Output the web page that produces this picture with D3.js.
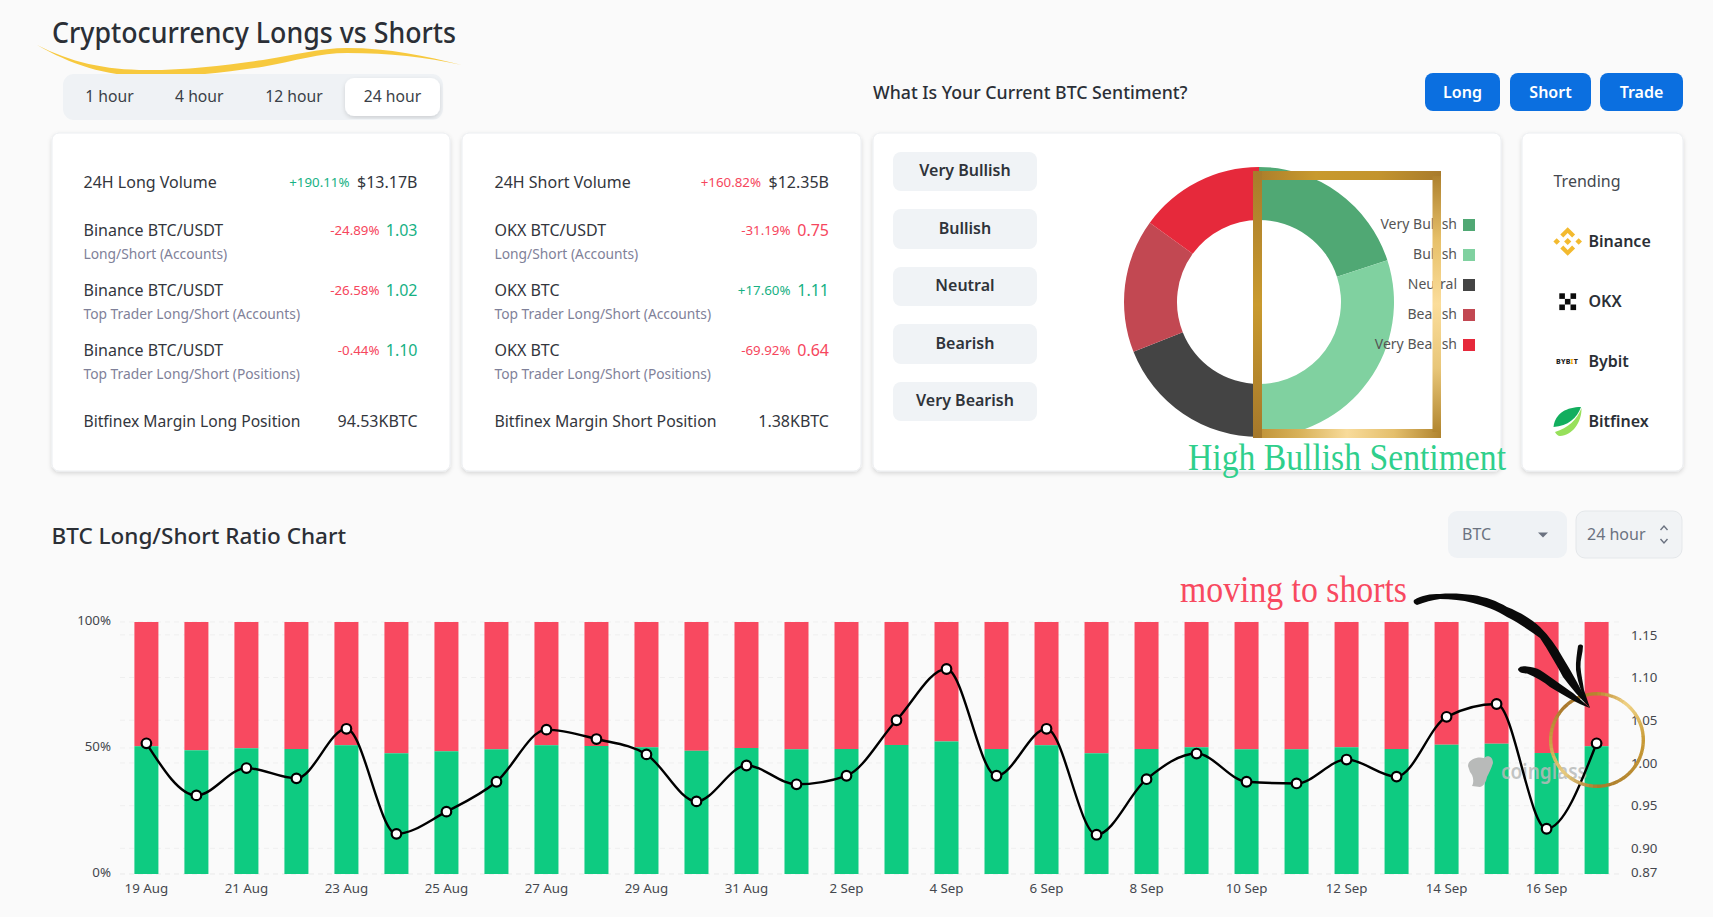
<!DOCTYPE html>
<html><head><meta charset="utf-8">
<script src="https://cdn.jsdelivr.net/npm/d3@7/dist/d3.min.js"></script>
<style>html,body{margin:0;padding:0;background:#fafafa;overflow:hidden}svg{display:block}</style>
</head><body><svg id="c" width="1713" height="917"></svg>
<script>
const dates=["19 Aug","20 Aug","21 Aug","22 Aug","23 Aug","24 Aug","25 Aug","26 Aug","27 Aug","28 Aug","29 Aug","30 Aug","31 Aug","1 Sep","2 Sep","3 Sep","4 Sep","5 Sep","6 Sep","7 Sep","8 Sep","9 Sep","10 Sep","11 Sep","12 Sep","13 Sep","14 Sep","15 Sep","16 Sep","17 Sep"];
const longPct=[50.7,49.1,49.9,49.6,51.1,47.9,48.7,49.5,51.1,50.8,50.3,48.9,50.0,49.5,49.6,51.2,52.6,49.6,51.1,47.9,49.6,50.3,49.5,49.5,50.3,49.6,51.3,51.7,48.0,50.7];
const ratio=[1.023,0.962,0.994,0.982,1.040,0.917,0.943,0.978,1.039,1.028,1.010,0.955,0.997,0.975,0.985,1.050,1.110,0.985,1.040,0.916,0.981,1.011,0.978,0.976,1.004,0.984,1.054,1.069,0.923,1.023];
const leftTicks=[0,50,100];
const rightTicks=[0.87,0.90,0.95,1.00,1.05,1.10,1.15];
const sentimentNames=["Very Bullish","Bullish","Neutral","Bearish","Very Bearish"];
const sentimentShare=[20,30,19,16,15];
const sentimentColors=["#50a874","#80d1a0","#444444","#c24852","#e6293b"];
const hourTabs=["1 hour","4 hour","12 hour","24 hour"];
const actionButtons=["Long","Short","Trade"];
const trending=["Binance","OKX","Bybit","Bitfinex"];
const longRows=[["24H Long Volume","","+190.11%","$13.17B"],["Binance BTC/USDT","Long/Short (Accounts)","-24.89%","1.03"],["Binance BTC/USDT","Top Trader Long/Short (Accounts)","-26.58%","1.02"],["Binance BTC/USDT","Top Trader Long/Short (Positions)","-0.44%","1.10"],["Bitfinex Margin Long Position","","","94.53KBTC"]];
const shortRows=[["24H Short Volume","","+160.82%","$12.35B"],["OKX BTC/USDT","Long/Short (Accounts)","-31.19%","0.75"],["OKX BTC","Top Trader Long/Short (Accounts)","+17.60%","1.11"],["OKX BTC","Top Trader Long/Short (Positions)","-69.92%","0.64"],["Bitfinex Margin Short Position","","","1.38KBTC"]];
const longPctIsUp=[true,false,false,false,false];
const shortPctIsUp=[false,false,true,false,false];

const GREEN="#0ecb81",RED="#f84960",UP="#17b184",DOWN="#f6465d",FONT="'Noto Sans',sans-serif",SERIF="'Liberation Serif',serif",INK="#2b2f36";
const svg=d3.select("#c").style("font-family",FONT);
svg.append("rect").attr("width",1713).attr("height",917).attr("fill","#fafafa");
const defs=svg.append("defs");
defs.append("filter").attr("id","sh").attr("x","-5%").attr("y","-5%").attr("width","110%").attr("height","112%")
 .append("feDropShadow").attr("dx",0).attr("dy",2).attr("stdDeviation",2).attr("flood-color","#000").attr("flood-opacity",.14);
function grad(id,stops,x2,y2){const g=defs.append("linearGradient").attr("id",id).attr("x1",0).attr("y1",0).attr("x2",x2).attr("y2",y2);
 stops.forEach((c,i)=>g.append("stop").attr("offset",i/(stops.length-1)).attr("stop-color",c));return `url(#${id})`;}
function txt(x,y,s,size,fill,anchor,weight,fam){return svg.append("text").attr("x",x).attr("y",y).attr("dy",".35em").text(s).attr("font-size",size).attr("fill",fill).attr("text-anchor",anchor||"start").attr("font-weight",weight||400).attr("font-family",fam||FONT);}
function fit(sel,w){return sel.attr("textLength",w).attr("lengthAdjust","spacingAndGlyphs");}

// header
svg.append("path").attr("d","M37,45C70,62 105,70 147,70C190,70 225,65 263,60C295,55 320,48 347,48C390,48 425,56 462,65C425,57 390,53 347,53C320,53 295,61 263,66.7C225,72 190,77 147,76.7C105,76 70,64 37,45Z").attr("fill","#f7c93e");
fit(txt(52,33.5,"Cryptocurrency Longs vs Shorts",28.5,INK,"start",500),404);
svg.append("rect").attr("x",63).attr("y",74).attr("width",380).attr("height",46).attr("rx",11).attr("fill","#eff2f5");
svg.append("rect").attr("x",345).attr("y",78).attr("width",95).attr("height",38).attr("rx",9).attr("fill","#fff").attr("filter","url(#sh)");
const tabX=[109.5,199.3,294,392.5];
hourTabs.forEach((t,i)=>txt(tabX[i],97,t,15.7,"#3a3f47","middle"));
fit(txt(873,93,"What Is Your Current BTC Sentiment?",18,INK,"start",500),314.5);
const btnBox=[[1425,75],[1510,81],[1600,83]];
actionButtons.forEach((b,i)=>{svg.append("rect").attr("x",btnBox[i][0]).attr("y",73).attr("width",btnBox[i][1]).attr("height",38).attr("rx",8).attr("fill","#0b6fe0");
 txt(btnBox[i][0]+btnBox[i][1]/2,92,b,16,"#fff","middle",600);});

// cards
[[52,398],[462,399],[873,628],[1522,161]].forEach(c=>svg.append("rect").attr("x",c[0]).attr("y",133).attr("width",c[1]).attr("height",338).attr("rx",7).attr("fill","#fff").attr("stroke","#eceef1").attr("filter","url(#sh)"));
const rowY=[182.5,230,290,350,421.5];
function rows(data,flags,x,right,pctR0,pctR,lastW){data.forEach((r,i)=>{
 const t=txt(x,rowY[i],r[0],16,"#33363d");
 if(i==4)fit(t,lastW);
 if(r[1])txt(x,rowY[i]+24,r[1],13.8,"#7f8199");
 if(r[2])txt(i==0?pctR0:pctR,rowY[i],r[2],13.3,flags[i]?UP:DOWN,"end");
 const col=(i==0||i==4)?"#33363d":(parseFloat(r[3])>=1?UP:DOWN);
 txt(right,rowY[i],r[3],16,col,"end");
});}
rows(longRows,longPctIsUp,83.5,417.5,349.5,379.5,217);
rows(shortRows,shortPctIsUp,494.5,829,761,790.5,222);

// sentiment buttons
const pillY=[[152,39],[209,40],[267,39],[324,40],[382,39]];
sentimentNames.forEach((n,i)=>{svg.append("rect").attr("x",893).attr("y",pillY[i][0]).attr("width",144).attr("height",pillY[i][1]).attr("rx",8).attr("fill","#f0f3f6");
 txt(965,pillY[i][0]+pillY[i][1]/2-.8,n,16,"#2f333a","middle",600);});

// donut
const pie=d3.pie().sort(null)(sentimentShare);
const arc=d3.arc().innerRadius(82).outerRadius(135);
svg.append("g").attr("transform","translate(1259,302)").selectAll("path").data(pie).join("path").attr("d",arc).attr("fill",(d,i)=>sentimentColors[i]);
const legendY=d3.scalePoint().domain(sentimentNames).range([225,345]);
sentimentNames.forEach((n,i)=>{txt(1457,legendY(n)-1,n,14,"#555","end");
 svg.append("rect").attr("x",1463).attr("y",legendY(n)-6).attr("width",12).attr("height",12).attr("fill",sentimentColors[i]);});
// gold frame
const fg={top:grad("gT",["#a97c2b","#c89a2e","#c3942e","#a87b2c"],1,0),left:grad("gL",["#a87b2c","#c99a2e","#a5782b"],0,1),
 bottom:grad("gB",["#bd8f33","#d8b25a","#f8db9a","#e4bf6c","#b0842e"],1,0),right:grad("gR",["#ae812e","#e7c069","#fbdd9b","#e8c679","#b2862f"],0,1)};
svg.append("rect").attr("x",1253).attr("y",171).attr("width",188).attr("height",9).attr("fill",fg.top);
svg.append("rect").attr("x",1253).attr("y",429).attr("width",188).attr("height",9).attr("fill",fg.bottom);
svg.append("rect").attr("x",1253).attr("y",171).attr("width",9).attr("height",267).attr("fill",fg.left);
svg.append("rect").attr("x",1432.5).attr("y",176).attr("width",8.5).attr("height",256).attr("fill",fg.right);
fit(txt(1188,457,"High Bullish Sentiment",37,"#2fcf8c","start",400,SERIF),318);

// trending
txt(1553.5,181.5,"Trending",16,"#44484f");
const trendY=d3.scalePoint().domain(trending).range([241.5,421.5]);
trending.forEach(t=>txt(1588.5,trendY(t),t,16,"#2b2f36","start",600));
const bn=svg.append("g").attr("transform","translate(1567.7,241.5)").attr("fill","#f3ba2f");
bn.append("path").attr("d","M0,-14.3L7.4,-6.9L4.4,-4L0,-8.4L-4.4,-4L-7.4,-6.9ZM0,14.3L7.4,6.9L4.4,4L0,8.4L-4.4,4L-7.4,6.9ZM-14.3,0L-11,-3.3L-7.7,0L-11,3.3ZM14.3,0L11,-3.3L7.7,0L11,3.3ZM0,-3.6L3.6,0L0,3.6L-3.6,0Z");
const ok=svg.append("g").attr("transform","translate(1567.7,301.7)").attr("fill","#0b0b0b");
[[-8.4,-8.4],[2.8,-8.4],[-2.8,-2.8],[-8.4,2.8],[2.8,2.8]].forEach(p=>ok.append("rect").attr("x",p[0]).attr("y",p[1]).attr("width",5.6).attr("height",5.6));
const by=txt(1556,362,"",7,"#222","start",800).attr("letter-spacing",.2);
by.append("tspan").text("BYB");by.append("tspan").text("I").attr("fill","#f7a600");by.append("tspan").text("T");
fit(by,22);
svg.append("path").attr("d","M1581,407C1567,407 1555,413 1553.5,427C1568,426 1577,418 1581,407Z").attr("fill","#12ae5e");
svg.append("path").attr("d","M1555,432C1568,428 1577,420 1581.5,408C1582,422 1572,436 1560,436C1558,436 1556,434 1555,432Z").attr("fill","#97e05b");

// ratio section
txt(51.5,536,"BTC Long/Short Ratio Chart",22.5,"#2b2f36","start",500);
svg.append("rect").attr("x",1448).attr("y",511).attr("width",119).attr("height",47).attr("rx",9).attr("fill","#eff2f5");
svg.append("rect").attr("x",1576).attr("y",511).attr("width",106).attr("height",47).attr("rx",9).attr("fill","#f1f3f5").attr("stroke","#e4e7ea");
txt(1462,534.5,"BTC",16,"#6b7280");
txt(1587,534.5,"24 hour",16,"#6b7280");
svg.append("path").attr("d","M1538,532.5h10l-5,5Z").attr("fill","#6b7280");
svg.append("path").attr("d","M1660.5,530l3.5,-4l3.5,4M1660.5,539l3.5,4l3.5,-4").attr("fill","none").attr("stroke","#6b7280").attr("stroke-width",1.4);

const plotTop=622,plotBottom=874,plotLeft=121.4,plotRight=1621.6;
const x=d3.scaleBand().domain(dates).range([plotLeft,plotRight]).paddingInner(.52).paddingOuter(.26);
const yL=d3.scaleLinear().domain([0,100]).range([plotBottom,plotTop]);
const yR=d3.scaleLinear().domain([0.87,1.165]).range([plotBottom,plotTop]);
// grid
const gridG=svg.append("g");
const gridYs=rightTicks.map(yR).concat(leftTicks.map(yL));
gridG.selectAll("line").data(gridYs).join("line").attr("x1",120).attr("x2",1621).attr("y1",d=>d).attr("y2",d=>d).attr("stroke","#efefef").attr("stroke-dasharray","5 4");
// bars
const idx=dates.map((d,i)=>i);
svg.append("g").selectAll("rect").data(idx).join("rect").attr("x",i=>x(dates[i])).attr("width",x.bandwidth()).attr("y",yL(100)).attr("height",i=>yL(longPct[i])-yL(100)).attr("fill",RED);
svg.append("g").selectAll("rect").data(idx).join("rect").attr("x",i=>x(dates[i])).attr("width",x.bandwidth()).attr("y",i=>yL(longPct[i])).attr("height",i=>yL(0)-yL(longPct[i])).attr("fill",GREEN);
// axes
const ax=svg.append("g").attr("transform",`translate(0,${plotBottom})`).call(d3.axisBottom(x).tickValues(dates.filter((d,i)=>i%2==0)).tickSize(0).tickPadding(10));
const axL=svg.append("g").attr("transform","translate(111,0)").call(d3.axisLeft(yL).tickValues(leftTicks).tickFormat(d=>d+"%").tickSize(0).tickPadding(0));
const axR=svg.append("g").attr("transform","translate(1631,0)").call(d3.axisRight(yR).tickValues(rightTicks).tickFormat(d3.format(".2f")).tickSize(0).tickPadding(0));
[ax,axL,axR].forEach(a=>{a.select(".domain").remove();a.selectAll("text").attr("font-size",13.3).attr("fill","#44474d").attr("font-family",FONT);});
axL.selectAll("text").attr("transform","translate(0,-2)");
axR.selectAll(".tick").filter(d=>d===0.87).select("text").attr("transform","translate(0,-2)");
// watermark
const wm=svg.append("g");
wm.append("path").attr("d","M1468,766C1468,759 1478,756 1484,758C1488,754 1493,757 1493,763C1491,769 1489,773 1487,777C1486,782 1484,786 1480,787L1472,786C1475,780 1472,774 1470,772Z").attr("fill","#b8bab9");
fit(wm.append("text").attr("x",1501).attr("y",771.5).attr("dy",".35em").text("coinglass").attr("font-size",21).attr("font-weight",600).attr("fill","#b8bab9").attr("fill-opacity",.85),86);
// line
const cx=i=>x(dates[i])+x.bandwidth()/2;
const line=d3.line().x(cx).y(i=>yR(ratio[i])).curve(d3.curveMonotoneX);
svg.append("path").attr("d",line(idx)).attr("fill","none").attr("stroke","#000").attr("stroke-width",2.4);
svg.append("g").selectAll("circle").data(idx).join("circle").attr("cx",cx).attr("cy",i=>yR(ratio[i])).attr("r",4.8).attr("fill","#fff").attr("stroke","#000").attr("stroke-width",2.2);
// annotations
fit(txt(1180,589,"moving to shorts",37,"#f84960","start",400,SERIF),227);
const ringColor=d3.scaleLinear().domain([0,40,90,135,180,225,270,315,360]).range(["#b8862f","#f0d385","#c89a35","#b98a30","#a87a2a","#e8cb80","#c8a040","#a9772c","#b8862f"]);
const ringArc=d3.arc().innerRadius(44.6).outerRadius(48);
const ringG=svg.append("g").attr("transform","translate(1597,740)");
ringG.selectAll("path").data(d3.range(0,360,5)).join("path").attr("d",a=>ringArc({startAngle:a*Math.PI/180,endAngle:(a+5.4)*Math.PI/180})).attr("fill",a=>ringColor(a+2.5));
const ink=svg.append("g").attr("fill","#0a0a0a");
ink.append("path").attr("d","M1414,600C1422,595 1430,594 1440,594C1452,593 1463,594 1473,595C1486,597 1497,601 1507,607C1520,612 1531,619 1540,627C1549,636 1557,647 1563,658C1572,673 1582,690 1590,708C1580,698 1571,688 1563,677C1556,664 1548,650 1540,638C1530,631 1519,623 1507,617C1496,610 1485,606 1473,603C1462,600 1451,599 1440,599C1432,600 1425,602 1417,605C1414,604 1413,602 1414,600Z");
ink.append("path").attr("d","M1518,669C1520,666 1523,666 1527,666.5C1532,667 1537,668 1540,670C1552,678 1566,688 1573,693L1590,708C1578,704 1563,695 1550,687C1544,682 1536,677 1527,673.5C1522,673.5 1518,672 1518,669Z");
ink.append("path").attr("d","M1578,646C1579,644 1582,644 1583,646C1583,653 1580,660 1580.5,667C1581,675 1583,682 1584,690L1590,708C1583,698 1578,684 1576,670C1575.5,662 1577,653 1578,646Z");
</script></body></html>
